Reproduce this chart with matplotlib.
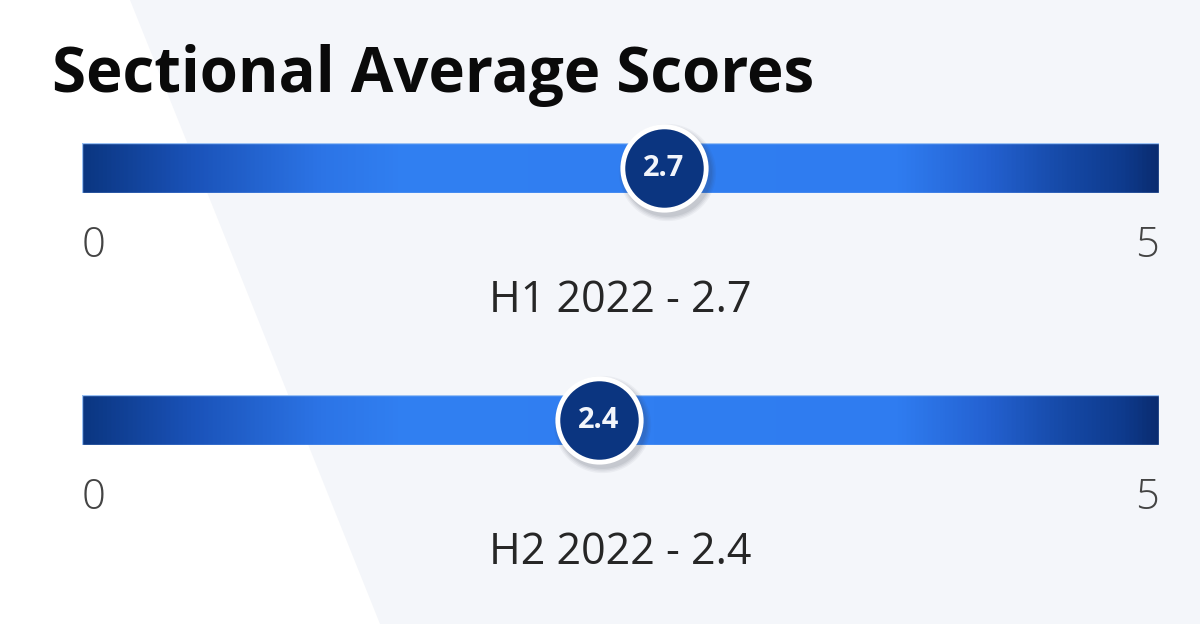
import numpy as np
import matplotlib
matplotlib.use("Agg")
import matplotlib.pyplot as plt
from matplotlib.colors import LinearSegmentedColormap
from matplotlib.patches import Polygon, Rectangle
from matplotlib.transforms import offset_copy

# Data
periods = ["H1 2022", "H2 2022"]
scores = [2.7, 2.4]
scale_min, scale_max = 0, 5
title = "Sectional Average Scores"

W, H, DPI = 1200, 624, 100
fig = plt.figure(figsize=(W / DPI, H / DPI), dpi=DPI)
fig.patch.set_facecolor("white")

# Light diagonal backdrop panel
bg = fig.add_axes([0, 0, 1, 1], zorder=-10)
bg.set_xlim(0, W)
bg.set_ylim(H, 0)
bg.axis("off")
bg.add_patch(Polygon([(130, 0), (380, H), (W, H), (W, 0)], closed=True,
                     facecolor="#f4f6fa", edgecolor="none"))

font = "Open Sans"
fig.text(52 / W, 1 - 92 / H, title, fontsize=44.5, fontweight="bold",
         family=font, color="#0a0a0a", ha="left", va="baseline")

bar_cmap = LinearSegmentedColormap.from_list(
    "bar", [(0.00, "#0b3681"), (0.10, "#1a52b8"), (0.22, "#2c74e6"),
            (0.30, "#3180f2"), (0.76, "#2f7cf0"), (0.84, "#2462d2"),
            (0.91, "#164aa8"), (0.97, "#0e3a8c"), (1.00, "#0a2c70")])

bar_left, bar_right = 82, 1159
bar_tops = [143, 395]
bar_h = 50

for period, score, top in zip(periods, scores, bar_tops):
    ax = fig.add_axes([bar_left / W, 1 - (top + bar_h) / H,
                       (bar_right - bar_left) / W, bar_h / H])
    ax.set_xlim(scale_min, scale_max)
    ax.set_ylim(0, 1)
    ax.axis("off")

    grad = np.linspace(0, 1, 512)[None, :]
    ax.imshow(grad, cmap=bar_cmap, extent=[scale_min, scale_max, 0, 1],
              aspect="auto", zorder=1)
    ax.add_patch(Rectangle((scale_min, 0), scale_max - scale_min, 1,
                           facecolor="none", edgecolor="#9cc2f4",
                           linewidth=1.0, zorder=2))

    # soft drop shadow under the marker
    for k, a in enumerate([0.05, 0.06, 0.07, 0.08]):
        tr = offset_copy(ax.transData, fig=fig, x=3, y=-4, units="dots")
        ax.scatter([score], [0.5], s=(64 + 6 - 2 * k) ** 2, color="#30384a",
                   alpha=a, linewidths=0, transform=tr, zorder=3,
                   clip_on=False)
    ax.scatter([score], [0.5], s=60 ** 2, color="#0b3580",
               edgecolors="white", linewidths=3.5, zorder=4, clip_on=False)
    ax.text(score, 0.5, f"{score:.1f}", color="#f2f5fb", fontsize=21,
            fontweight="bold", family=font, ha="center", va="center",
            zorder=5)

    # scale end labels and caption
    ax.text(scale_min, -1.28, f"{scale_min}", fontsize=30, family=font,
            fontweight="light", color="#444444", ha="left", va="baseline",
            clip_on=False)
    ax.text(scale_max, -1.28, f"{scale_max}", fontsize=30, family=font,
            fontweight="light", color="#444444", ha="right", va="baseline",
            clip_on=False)
    ax.text((scale_min + scale_max) / 2, -2.38, f"{period} - {score:.1f}",
            fontsize=31, family=font, color="#262626", ha="center",
            va="baseline", clip_on=False)

fig.savefig("out.png", dpi=DPI, facecolor=fig.get_facecolor())
